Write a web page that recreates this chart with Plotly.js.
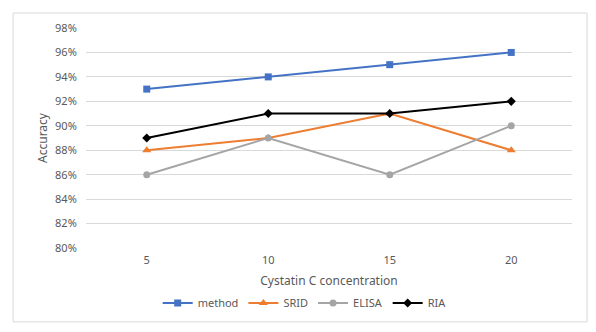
<!DOCTYPE html>
<html>
<head>
<meta charset="utf-8">
<script src="https://cdn.plot.ly/plotly-3.0.1.min.js"></script>
<style>
  body { margin: 0; background: #fff; }
  #plot { width: 596px; height: 332px; }
</style>
</head>
<body>
<div id="plot"></div>
<script>
// categories and accuracy values
var concentrations = ["5", "10", "15", "20"];
var methodAcc = [0.93, 0.94, 0.95, 0.96];
var sridAcc   = [0.88, 0.89, 0.91, 0.88];
var elisaAcc  = [0.86, 0.89, 0.86, 0.90];
var riaAcc    = [0.89, 0.91, 0.91, 0.92];

function series(name, y, color, symbol, size) {
  return {
    x: concentrations,
    y: y,
    name: name,
    type: "scatter",
    mode: "lines+markers",
    line: { color: color, width: 2 },
    marker: { color: color, symbol: symbol, size: size }
  };
}

var data = [
  series("method", methodAcc, "#4472C4", "square", 7),
  series("SRID", sridAcc, "#ED7D31", "triangle-up", 8),
  series("ELISA", elisaAcc, "#A5A5A5", "circle", 7),
  series("RIA", riaAcc, "#000000", "diamond", 7)
];

var layout = {
  width: 596,
  height: 332,
  margin: { l: 86, r: 24, t: 28, b: 84, autoexpand: false },
  paper_bgcolor: "#ffffff",
  plot_bgcolor: "#ffffff",
  font: { family: "Noto Sans, sans-serif", size: 11, color: "#595959" },
  showlegend: true,
  legend: {
    orientation: "h",
    x: 0.45, xanchor: "center",
    y: -0.25, yanchor: "middle",
    font: { size: 11, color: "#595959" },
    itemwidth: 30
  },
  xaxis: {
    type: "category",
    range: [-0.5, 3.5],
    automargin: false,
    showgrid: false,
    zeroline: false,
    showline: false,
    ticks: "outside",
    ticklen: 2,
    tickcolor: "rgba(0,0,0,0)",
    tickfont: { size: 11, color: "#595959" },
    title: { text: "Cystatin C concentration", font: { size: 12, color: "#595959" }, standoff: 10 }
  },
  yaxis: {
    range: [0.80, 0.98],
    dtick: 0.02,
    tickformat: ".0%",
    automargin: false,
    showgrid: true,
    gridcolor: "#D9D9D9",
    gridwidth: 1,
    zeroline: false,
    showline: false,
    ticks: "outside",
    ticklen: 6,
    tickcolor: "rgba(0,0,0,0)",
    tickfont: { size: 11, color: "#595959" },
    title: { text: "Accuracy", font: { size: 12, color: "#595959" }, standoff: 4 }
  },
  shapes: [{
    type: "rect", xref: "paper", yref: "paper",
    x0: -0.150, x1: 1.031, y0: -0.336, y1: 1.068,
    line: { color: "#D9D9D9", width: 1 }
  }]
};

Plotly.newPlot("plot", data, layout, { displayModeBar: false });
</script>
</body>
</html>
